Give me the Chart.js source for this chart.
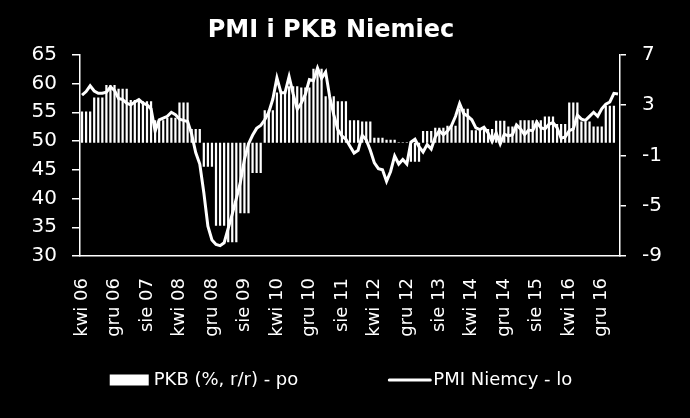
<!DOCTYPE html>
<html>
<head>
<meta charset="utf-8">
<script src="https://cdn.jsdelivr.net/npm/chart.js@4.4.0/dist/chart.umd.min.js"></script>
<style>
  html, body { margin: 0; padding: 0; background: #000; }
  #wrap { width: 690px; height: 418px; }
</style>
</head>
<body>
<div id="wrap"><canvas id="c" width="690" height="418"></canvas></div>
<script>
// ---- data ----
const titleText = 'PMI i PKB Niemiec';
const seriesNames = ['PKB (%, r/r) - po', 'PMI Niemcy - lo'];
const monthNames = ['sty','lut','mar','kwi','maj','cze','lip','sie','wrz','paź','lis','gru'];
const startYear = 2006;
const startMonthIndex = 3;          // kwi 2006
const monthCount = 133;             // kwi 2006 .. kwi 2017
const tickEvery = 8;
const tickLabels = ['kwi 06','gru 06','sie 07','kwi 08','gru 08','sie 09','kwi 10','gru 10','sie 11',
                    'kwi 12','gru 12','sie 13','kwi 14','gru 14','sie 15','kwi 16','gru 16'];

// PMI Niemcy (monthly, kwi 06 .. kwi 17) - left axis
const pmi2006 = [58.0, 58.6, 59.6, 58.7, 58.3, 58.3, 58.5, 59.4, 58.8];
const pmi2007 = [57.4, 57.2, 56.6, 56.3, 56.8, 57.2, 56.6, 56.3, 55.6, 51.7, 53.7, 54.0];
const pmi2008 = [54.3, 55.0, 54.6, 53.8, 53.6, 53.4, 51.2, 48.0, 46.0, 41.0, 35.2, 32.8];
const pmi2009 = [32.0, 31.8, 32.3, 34.8, 37.3, 40.0, 42.8, 46.8, 49.5, 51.0, 52.2, 52.7];
const pmi2010 = [53.7, 55.0, 57.3, 61.0, 58.4, 58.4, 61.2, 58.2, 55.5, 56.6, 58.1, 60.7];
const pmi2011 = [60.5, 62.7, 60.9, 62.0, 57.7, 54.6, 52.0, 50.9, 50.3, 49.1, 47.9, 48.4];
const pmi2012 = [51.0, 50.2, 48.4, 46.2, 45.2, 45.0, 43.0, 44.7, 47.4, 46.0, 46.8, 46.0];
const pmi2013 = [49.8, 50.3, 49.0, 48.1, 49.4, 48.6, 50.7, 51.8, 51.1, 51.7, 52.7, 54.3];
const pmi2014 = [56.5, 54.8, 54.3, 53.7, 52.3, 52.0, 52.4, 51.4, 49.9, 51.4, 49.5, 51.2];
const pmi2015 = [50.9, 51.1, 52.8, 52.1, 51.1, 51.9, 51.8, 53.3, 52.3, 52.1, 52.9, 53.2];
const pmi2016 = [52.3, 50.5, 50.7, 51.8, 52.1, 54.5, 53.8, 53.6, 54.3, 55.0, 54.3, 55.6];
const pmi2017 = [56.4, 56.8, 58.3, 58.2];

// PKB (% r/r), quarterly from II kw. 2006 to I kw. 2017 - right axis
const gdpQuarterly = [2.5, 3.6, 4.6, 4.3, 3.4, 3.3, 1.8, 2.0, 3.2, 1.1, -1.9, -6.6, -7.9, -5.6, -2.4,
                      2.6, 4.0, 4.5, 4.4, 5.9, 3.7, 3.3, 1.8, 1.7, 0.4, 0.25, 0.05, -1.5, 0.95, 1.2,
                      1.35, 2.7, 1.0, 1.1, 1.75, 1.3, 1.8, 1.8, 2.1, 1.5, 3.2, 1.7, 1.3, 2.95];

// ---- derived ----
const pmi = [].concat(pmi2006, pmi2007, pmi2008, pmi2009, pmi2010, pmi2011, pmi2012,
                      pmi2013, pmi2014, pmi2015, pmi2016, pmi2017);
const categories = [];
for (let i = 0; i < monthCount; i++) {
  const m = (startMonthIndex + i) % 12;
  const y = startYear + Math.floor((startMonthIndex + i) / 12);
  categories.push(monthNames[m] + ' ' + String(y % 100).padStart(2, '0'));
}
// each quarterly value is shown for the three months of its quarter
const gdpMonthly = categories.map((_, i) => {
  const q = Math.floor(i / 3);
  return q < gdpQuarterly.length ? gdpQuarterly[q] : null;
});

const FONT = '"DejaVu Sans", sans-serif';
Chart.defaults.font.family = FONT;
Chart.defaults.color = '#ffffff';

const legendPlugin = {
  id: 'customLegend',
  afterDraw(chart) {
    const ctx = chart.ctx;
    const ca = chart.chartArea;
    ctx.save();
    ctx.font = '18px ' + FONT;
    ctx.fillStyle = '#ffffff';
    ctx.strokeStyle = '#ffffff';
    ctx.textBaseline = 'middle';
    ctx.textAlign = 'left';
    const boxW = 39, boxH = 11, lineW = 42, gap1 = 5, gap2 = 3, itemGap = 90;
    const t1 = ctx.measureText(seriesNames[0]).width;
    const t2 = ctx.measureText(seriesNames[1]).width;
    const total = boxW + gap1 + t1 + itemGap + lineW + gap2 + t2;
    const cx = (ca.left + ca.right) / 2 - 9;
    const y = ca.bottom + 124;
    let x = cx - total / 2;
    ctx.fillRect(x, y - boxH / 2, boxW, boxH);
    x += boxW + gap1;
    ctx.fillText(seriesNames[0], x, y);
    x += t1 + itemGap;
    ctx.lineWidth = 3;
    ctx.lineCap = 'round';
    ctx.beginPath();
    ctx.moveTo(x + 1, y);
    ctx.lineTo(x + lineW, y);
    ctx.stroke();
    x += lineW + gap2;
    ctx.fillText(seriesNames[1], x, y);
    ctx.restore();
  }
};

new Chart(document.getElementById('c'), {
  type: 'bar',
  data: {
    labels: categories,
    datasets: [
      {
        type: 'line',
        label: seriesNames[1],
        data: pmi,
        yAxisID: 'y',
        borderColor: '#ffffff',
        borderWidth: 3,
        pointRadius: 0,
        tension: 0,
        fill: false,
        order: 1
      },
      {
        type: 'bar',
        label: seriesNames[0],
        data: gdpMonthly,
        yAxisID: 'y1',
        backgroundColor: '#ffffff',
        borderWidth: 0,
        barPercentage: 0.55,
        categoryPercentage: 1.0,
        order: 2
      }
    ]
  },
  options: {
    responsive: false,
    animation: false,
    layout: { padding: { left: 0, right: 28, top: 0, bottom: 0 } },
    plugins: {
      legend: { display: false },
      tooltip: { enabled: false },
      title: {
        display: true,
        text: titleText,
        color: '#ffffff',
        font: { family: FONT, size: 24, weight: 'bold' },
        padding: { top: 16, bottom: 10 }
      }
    },
    scales: {
      x: {
        type: 'category',
        offset: true,
        grid: { display: false },
        border: { display: true, color: '#ffffff', width: 1.5 },
        ticks: {
          autoSkip: false,
          minRotation: 90,
          maxRotation: 90,
          padding: 14,
          color: '#ffffff',
          font: { size: 18 },
          callback: function (value, index) {
            return index % tickEvery === 0 ? (tickLabels[index / tickEvery] || '') : '';
          }
        },
        afterFit(scale) { scale.height = 162; }
      },
      y: {
        position: 'left',
        min: 30,
        max: 65,
        ticks: { stepSize: 5, color: '#ffffff', font: { size: 20 }, padding: 15 },
        grid: { drawOnChartArea: false, drawTicks: true, tickLength: 8, color: '#ffffff', lineWidth: 1.5 },
        border: { display: true, color: '#ffffff', width: 1.5 },
        afterFit(scale) { scale.width = 80; }
      },
      y1: {
        position: 'right',
        min: -9,
        max: 7,
        ticks: { stepSize: 4, color: '#ffffff', font: { size: 20 }, padding: 16 },
        grid: { drawOnChartArea: false, drawTicks: true, tickLength: 6, color: '#ffffff', lineWidth: 1.5 },
        border: { display: true, color: '#ffffff', width: 1.5 },
        afterFit(scale) { scale.width = 42; }
      }
    }
  },
  plugins: [legendPlugin]
});
</script>
</body>
</html>
